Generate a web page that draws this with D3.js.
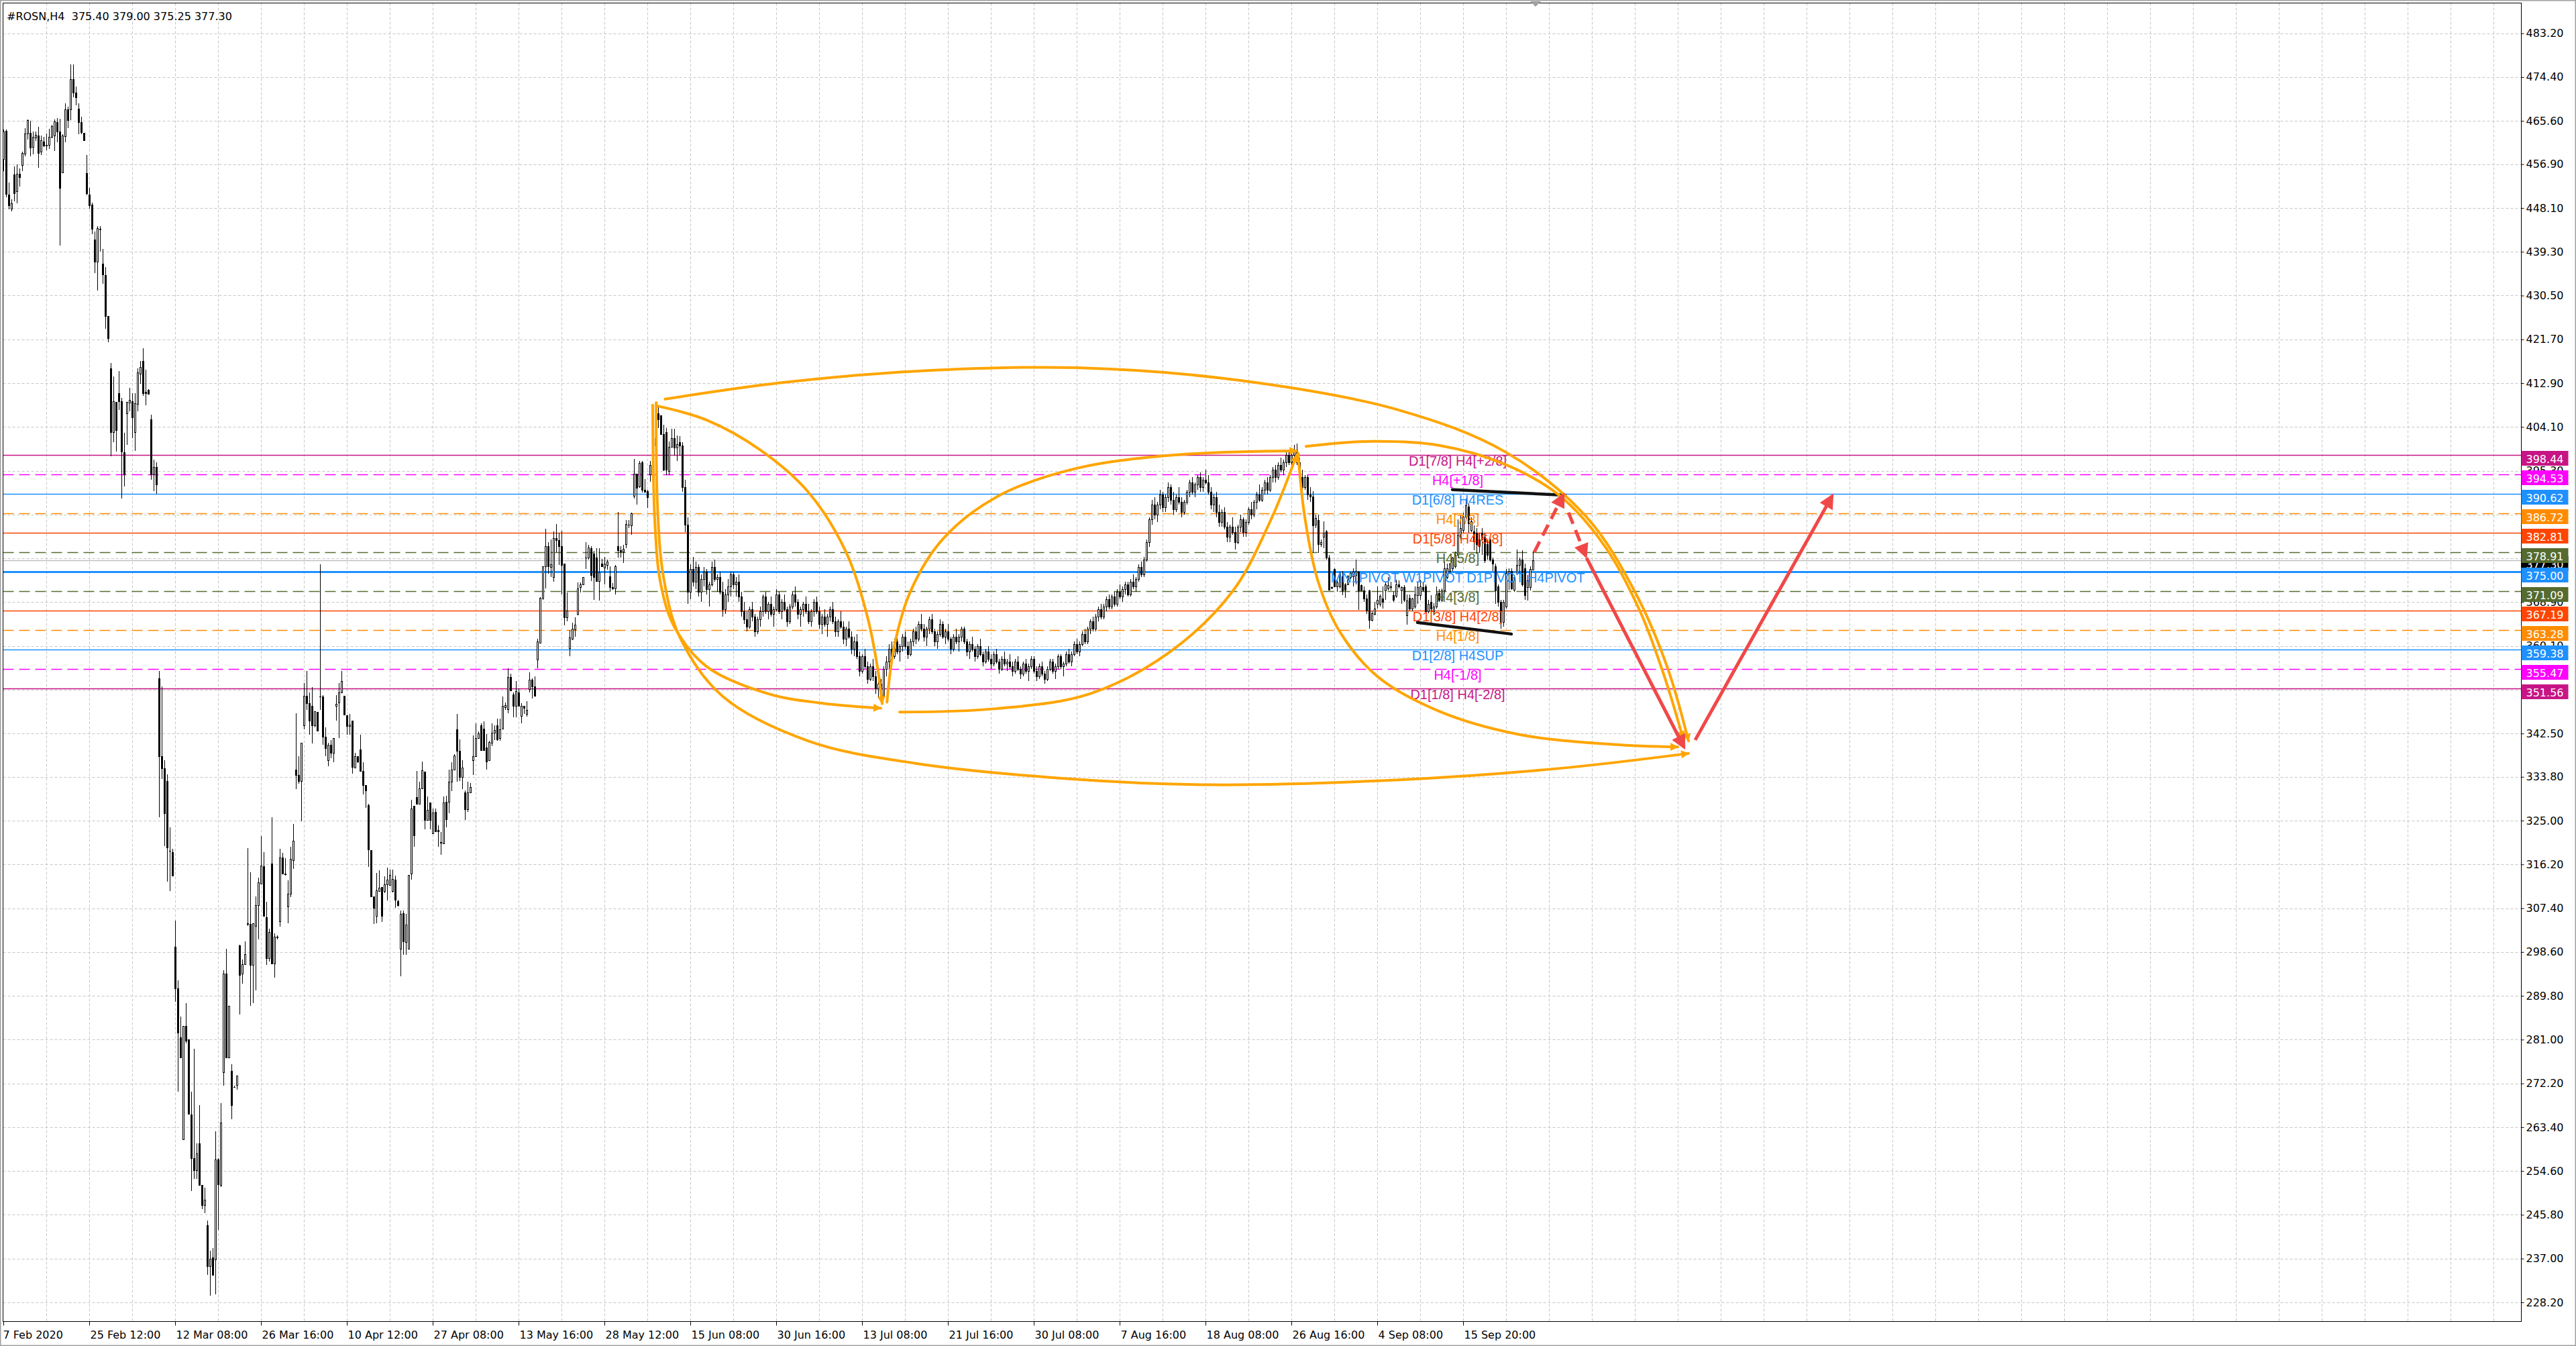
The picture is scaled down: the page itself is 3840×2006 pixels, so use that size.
<!DOCTYPE html>
<html><head><meta charset="utf-8">
<script src="https://cdn.jsdelivr.net/npm/d3@7"></script>
<style>html,body{margin:0;padding:0;background:#fff;overflow:hidden}svg{display:block}</style>
</head><body>
<svg id="c" width="3840" height="2006"></svg>
<script>
// ---------------- DATA ----------------
const title = "#ROSN,H4  375.40 379.00 375.25 377.30";
// H4 candles [open, high, low, close], oldest first
const ohlc = [
[457.9,463.9,455.5,463.5],[463.6,463.9,450.3,450.9],[450.8,453.2,447.8,448.6],[448.0,449.8,447.4,449.1],[454.9,456.4,449.5,451.1],
[451.5,456.8,449.0,455.0],[455.0,456.0,452.4,454.3],[456.7,459.4,455.5,459.1],[459.0,464.2,458.5,463.0],[463.0,465.9,461.8,465.8],
[463.2,465.6,458.5,460.2],[460.3,463.4,458.9,462.4],[462.3,463.4,461.6,462.8],[462.6,464.4,456.2,459.2],[459.4,462.6,458.8,461.7],
[461.5,462.4,460.3,460.6],[460.8,463.1,459.7,460.6],[460.8,464.0,460.0,462.4],[462.4,464.8,462.1,464.6],[462.6,465.9,459.5,465.5],
[465.4,466.2,461.3,463.4],[463.5,466.0,440.5,452.2],[455.2,462.9,455.2,462.6],[462.5,469.1,461.3,467.9],[467.9,468.5,464.2,465.8],
[467.9,476.9,465.8,474.0],[474.0,476.9,470.3,471.3],[471.3,472.5,468.7,470.3],[468.1,469.1,462.9,465.3],[465.3,466.4,462.9,463.3],
[463.2,463.2,461.7,461.7],[455.1,458.8,450.7,451.1],[450.8,452.1,448.0,448.6],[448.7,449.2,442.9,443.9],[441.7,443.4,435.0,437.3],
[437.3,444.5,431.5,444.0],[443.9,444.5,439.3,443.8],[436.9,439.9,432.9,434.8],[434.6,436.2,423.8,426.4],[426.4,426.4,421.1,422.0],
[415.9,417.0,398.2,403.1],[403.1,414.3,401.1,409.3],[409.1,409.1,399.2,403.4],[410.9,415.3,407.5,409.3],[409.3,409.9,389.7,399.2],
[399.0,402.9,392.1,394.6],[406.9,409.1,400.5,409.1],[409.0,411.9,407.2,409.6],[409.3,410.9,401.9,406.0],[403.1,410.9,399.3,408.9],
[408.7,415.9,407.2,415.0],[414.8,417.4,412.8,416.1],[417.4,419.9,410.3,410.9],[411.2,415.6,408.4,410.9],[411.5,411.7,410.6,410.8],
[405.6,406.6,393.5,394.6],[394.6,397.5,391.2,396.0],[396.0,397.0,390.6,392.6],[353.6,355.0,325.7,338.0],[338.0,352.0,333.4,335.5],
[335.5,337.1,319.9,326.5],[333.0,334.3,312.8,319.6],[318.9,323.7,310.9,318.9],[318.6,319.4,313.9,313.9],[299.7,304.9,288.6,291.3],
[291.3,292.9,270.6,282.4],[281.5,285.6,277.4,277.4],[261.0,283.7,261.0,283.7],[283.7,288.3,280.3,280.8],[281.1,281.1,266.1,266.1],
[265.9,270.6,250.6,257.2],[257.2,279.2,253.0,254.8],[254.8,260.2,253.0,258.1],[260.2,267.9,251.8,251.8],[251.8,251.8,247.0,247.7],
[247.7,251.3,246.1,248.8],[243.7,244.6,233.7,235.5],[235.5,238.6,229.6,237.0],[237.3,239.1,233.7,233.7],[236.8,262.6,229.8,256.9],
[256.9,257.2,242.7,251.9],[251.8,268.2,251.4,264.3],[274.5,294.9,271.8,294.2],[294.2,299.3,277.4,277.4],[277.4,287.8,277.4,287.8],
[274.7,276.0,265.0,267.9],[271.5,271.8,271.3,271.5],[271.9,273.8,271.0,273.8],[299.9,300.1,286.0,294.0],[294.2,297.1,292.2,296.2],
[296.2,300.8,296.2,298.2],[304.3,319.5,303.9,304.4],[304.3,314.6,287.8,296.0],[296.0,304.4,288.3,304.4],[303.9,309.8,290.9,308.0],
[308.0,313.5,301.2,312.6],[312.3,321.9,312.3,316.0],[315.9,318.6,305.8,305.8],[305.6,308.7,296.0,297.4],[297.4,303.3,296.7,302.6],
[316.4,325.7,296.3,296.3],[296.3,302.3,293.5,301.7],[301.7,302.0,301.2,301.5],[304.8,319.4,303.7,317.6],[317.6,318.5,314.3,314.3],
[314.3,317.5,313.9,314.2],[307.8,313.0,304.4,310.3],[310.3,319.8,309.6,317.3],[317.1,324.3,315.3,321.0],[335.2,346.6,331.4,334.2],
[334.2,338.0,332.4,332.9],[333.0,340.6,324.9,340.6],[344.2,352.6,343.4,350.1],[350.1,355.1,347.3,348.6],[348.6,350.7,342.2,345.1],
[348.0,351.8,340.5,344.2],[344.2,347.0,343.7,347.0],[346.9,346.9,343.0,343.0],[349.9,376.5,347.3,350.0],[350.0,350.2,340.3,341.8],
[341.8,343.8,337.9,339.6],[337.2,340.6,335.9,340.3],[340.3,341.2,337.6,338.6],[338.6,341.6,336.7,341.6],[348.0,350.2,345.1,348.5],
[348.7,352.6,341.6,350.7],[350.7,355.1,350.7,353.1],[350.1,350.1,346.3,346.3],[346.2,346.2,342.2,344.0],[344.0,346.5,342.2,344.3],
[345.1,345.1,334.5,335.8],[335.7,338.6,335.6,338.0],[338.0,338.0,336.6,336.9],[339.3,342.2,335.0,335.0],[335.0,336.7,330.2,332.2],
[332.2,332.2,327.5,331.1],[328.1,328.4,315.7,319.2],[319.1,319.1,309.8,309.8],[309.8,309.8,304.2,307.5],[305.9,314.5,304.4,311.0],
[310.9,315.0,310.9,311.5],[311.6,311.6,304.6,305.9],[310.8,313.8,310.4,312.2],[312.2,315.5,309.0,313.2],[312.1,315.2,312.1,314.1],
[310.8,315.2,310.6,313.3],[313.2,313.9,307.5,309.1],[308.8,309.1,307.8,308.0],[299.3,306.9,293.7,306.3],[306.4,307.0,298.0,300.8],
[300.6,306.3,298.0,304.1],[299.3,314.1,299.3,314.1],[314.3,329.2,313.2,327.4],[327.9,327.9,319.8,322.1],[329.7,335.0,328.4,328.4],
[328.4,332.8,328.4,331.5],[331.5,336.9,331.4,335.1],[334.8,334.8,323.2,325.1],[325.1,329.9,325.1,327.1],[328.6,328.6,323.2,325.1],
[322.5,327.4,322.5,326.6],[326.8,327.4,322.8,322.8],[323.1,324.0,319.8,322.9],[320.7,322.7,318.1,320.5],[320.4,329.9,320.3,328.7],
[328.8,330.0,323.6,325.3],[328.8,335.2,326.5,332.8],[332.8,336.7,330.9,335.3],[335.3,338.3,335.2,338.1],[343.4,346.4,332.8,339.0],
[339.0,341.3,332.9,333.7],[333.8,337.2,331.4,335.7],[330.7,331.1,325.1,327.3],[327.3,332.8,326.7,330.7],[330.7,332.5,330.6,331.7],
[337.2,342.1,334.2,337.9],[338.0,344.6,337.9,341.6],[341.6,342.9,341.4,342.5],[344.2,344.6,339.1,339.2],[343.5,344.9,339.1,339.1],
[339.7,342.4,335.2,336.8],[337.2,341.0,337.2,340.8],[340.6,344.6,340.0,342.7],[342.7,344.2,341.2,343.2],[344.2,345.5,341.1,341.3],
[341.6,345.5,341.1,343.4],[343.5,349.9,343.4,348.0],[347.8,348.7,347.2,348.2],[347.4,355.6,346.6,353.8],[353.8,354.5,351.2,351.2],
[350.4,350.7,345.8,348.1],[348.1,353.1,345.8,351.0],[350.7,351.6,348.0,348.0],[346.1,348.6,344.6,348.1],[348.1,348.1,346.4,347.7],
[346.4,349.0,345.9,347.3],[351.4,354.8,350.8,353.3],[353.3,353.6,349.6,351.9],[351.9,354.0,350.0,350.1],[357.4,361.6,355.6,361.0],
[360.7,369.9,360.7,369.7],[369.7,376.1,369.4,376.1],[376.1,383.7,371.6,380.1],[380.1,381.0,374.6,376.1],[375.9,381.5,373.9,376.5],
[373.9,383.1,373.0,381.7],[381.7,384.6,378.9,381.4],[381.4,382.8,376.4,380.2],[380.2,383.2,370.4,376.4],[376.6,376.6,364.3,365.9],
[365.8,370.9,365.1,367.2],[359.6,363.3,358.0,361.8],[361.6,364.8,361.3,363.6],[363.4,365.8,361.9,364.4],[366.5,372.8,366.2,371.7],
[371.9,372.9,370.8,372.5],[372.5,374.0,372.5,374.0],[377.9,381.0,375.5,377.8],[377.9,380.4,377.4,379.9],[379.8,380.1,373.1,374.3],
[378.6,379.2,369.3,373.9],[377.8,379.8,373.1,373.1],[373.1,379.8,369.2,374.9],[376.7,377.6,376.1,376.1],[375.8,378.0,372.5,376.7],
[376.4,377.5,375.4,377.0],[374.1,376.1,371.0,371.9],[371.9,372.7,371.4,371.6],[371.6,376.4,370.5,376.1],[380.1,387.0,377.8,379.3],
[379.3,380.1,377.8,379.0],[379.0,380.4,376.8,379.6],[380.5,385.4,379.8,384.6],[384.4,385.4,383.8,384.5],[384.3,386.9,382.5,386.8],
[390.2,397.7,389.7,394.7],[394.7,394.7,388.5,391.9],[392.2,397.3,391.9,396.9],[397.0,397.3,390.9,391.5],[391.5,393.6,391.1,391.1],
[391.2,391.5,387.8,390.0],[394.6,397.3,393.1,396.4],[396.4,401.5,395.5,400.3],[400.3,403.9,400.0,401.9],[406.9,408.2,403.9,405.6],
[406.4,406.4,402.5,402.7],[402.7,404.5,395.2,395.5],[403.0,403.9,394.5,395.5],[395.3,401.2,394.5,400.1],[400.1,403.8,399.9,401.9],
[401.9,403.7,398.3,400.0],[400.0,402.4,397.3,400.7],[401.1,402.3,398.4,400.3],
[400.3,401.0,391.0,392.0],[392.0,393.5,383.0,384.5],[384.5,386.0,368.5,371.0],[371.0,376.5,369.5,375.5],[375.5,378.0,372.0,373.0],
[373.0,377.0,371.5,376.0],[376.0,376.5,370.0,371.0],[371.0,374.5,369.0,373.5],[373.5,376.0,372.0,375.0],[375.0,375.5,370.5,371.5],
[371.5,373.0,368.0,372.5],[372.5,377.0,372.0,376.0],[376.0,377.5,373.0,373.5],[373.5,374.5,371.0,374.0],[374.0,375.0,370.5,371.0],
[371.0,373.0,366.0,367.5],[367.5,371.5,366.5,370.5],[370.5,373.5,369.0,372.0],[372.0,375.0,370.0,374.5],[374.5,375.0,371.5,372.5],
[372.5,374.0,370.0,373.0],[373.0,374.5,369.0,370.0],[370.0,371.0,366.0,367.0],[367.0,369.0,364.5,365.5],[365.5,367.0,363.0,364.0],
[364.0,368.0,363.5,367.5],[367.5,369.0,365.0,366.0],[366.0,366.5,362.0,363.0],[363.0,366.0,362.5,365.5],[365.5,368.0,364.0,367.0],
[367.0,370.5,366.0,370.0],[370.0,371.0,366.5,367.0],[367.0,369.0,365.5,368.5],[368.5,370.0,366.0,366.5],[366.5,368.0,364.0,367.5],
[367.5,371.5,367.0,370.5],[370.5,371.0,366.5,367.0],[367.0,369.5,365.5,369.0],[369.0,370.5,367.0,367.5],[367.5,368.0,364.0,365.0],
[365.0,368.5,364.5,368.0],[368.0,371.0,367.5,370.5],[370.5,372.0,368.0,369.0],[369.0,369.5,365.5,366.5],[366.5,368.0,364.0,367.5],
[367.5,369.0,366.0,368.5],[368.5,370.0,366.5,367.0],[367.0,368.5,364.5,365.0],[365.0,367.5,364.0,367.0],[367.0,369.5,366.0,369.0],
[369.0,370.0,366.5,367.0],[367.0,368.0,363.5,364.5],[364.5,366.5,362.5,366.0],[366.0,367.5,364.0,364.5],[364.5,366.5,362.0,366.0],
[366.0,368.0,365.0,367.5],[367.5,369.0,364.5,365.0],[365.0,366.0,362.0,363.0],[363.0,365.5,362.0,365.0],[365.0,367.0,363.5,364.0],
[364.0,365.0,360.5,361.5],[361.5,364.0,360.0,363.5],[363.5,365.0,361.5,362.0],[362.0,363.0,358.5,359.5],[359.5,362.0,358.0,361.0],
[361.0,362.5,357.5,358.0],[358.0,359.0,354.0,355.0],[355.0,358.5,354.5,358.0],[358.0,359.5,355.5,356.0],[356.0,357.0,352.5,353.5],
[353.5,356.5,353.0,356.0],[356.0,357.5,353.0,354.0],[354.0,355.0,350.5,351.5],[351.5,353.0,349.5,352.5],[352.5,353.5,348.5,350.0],
[350.0,356.0,349.5,355.5],[355.5,358.0,354.0,357.0],[357.0,360.5,355.5,359.5],[359.5,361.0,357.0,358.0],[358.0,361.5,357.5,361.0],
[361.0,362.0,358.5,359.0],[359.0,360.5,357.0,360.0],[360.0,362.5,359.0,362.0],[362.0,363.0,359.5,360.0],[360.0,361.0,357.5,358.5],
[358.5,361.5,358.0,361.0],[361.0,363.5,360.0,363.0],[363.0,364.0,360.5,361.5],[361.5,365.0,361.0,364.5],[364.5,366.5,363.0,363.5],
[363.5,364.5,361.0,362.0],[362.0,364.0,360.0,363.5],[363.5,366.0,362.5,365.5],[365.5,366.5,362.5,363.0],[363.0,363.5,360.0,361.0],
[361.0,363.0,359.5,362.5],[362.5,365.5,362.0,364.5],[364.5,365.0,361.5,362.0],[362.0,363.5,360.5,363.0],[363.0,364.5,361.0,361.5],
[361.5,362.0,358.5,359.5],[359.5,362.5,359.0,362.0],[362.0,363.5,360.5,361.0],[361.0,362.5,359.0,362.0],[362.0,364.0,361.0,363.5],
[363.5,364.0,360.5,361.0],[361.0,361.5,358.0,359.0],[359.0,361.0,357.5,360.5],[360.5,362.0,359.0,359.5],[359.5,360.0,357.0,358.0],
[358.0,360.5,357.5,360.0],[360.0,361.5,358.0,358.5],[358.5,359.0,356.0,357.0],[357.0,359.5,356.5,359.0],[359.0,360.0,357.0,357.5],
[357.5,358.5,355.5,356.5],[356.5,359.0,356.0,358.5],[358.5,359.5,356.5,357.0],[357.0,357.5,354.5,355.5],[355.5,358.0,355.0,357.5],
[357.5,359.0,356.0,356.5],[356.5,357.5,355.0,357.0],[357.0,358.5,355.5,356.0],[356.0,357.0,354.0,355.0],[355.0,357.5,354.5,357.0],
[357.0,358.0,355.0,355.5],[355.5,356.0,353.5,354.5],[354.5,357.0,354.0,356.5],[356.5,357.5,354.5,355.0],[355.0,356.5,353.0,356.0],
[356.0,358.0,355.5,357.5],[357.5,358.0,354.5,355.0],[355.0,356.0,353.0,354.0],[354.0,356.5,353.5,356.0],[356.0,357.0,354.0,354.5],
[354.5,355.0,352.5,353.5],[353.5,356.0,353.0,355.5],[355.5,357.5,355.0,357.0],[357.0,357.5,354.5,355.0],[355.0,356.5,353.5,356.0],
[356.0,358.5,355.5,358.0],[358.0,358.5,355.5,356.0],[356.0,357.0,354.0,356.5],[356.5,359.0,356.0,358.5],[358.5,359.5,356.5,357.0],
[357.0,359.0,356.0,358.5],[358.5,361.0,358.0,360.5],[360.5,361.5,358.5,359.0],[359.0,361.0,358.0,360.5],[360.5,363.0,360.0,362.5],
[362.5,363.5,360.5,361.0],[361.0,364.0,360.5,363.5],[363.5,365.5,362.5,365.0],[365.0,366.0,363.0,363.5],[363.5,366.5,363.0,366.0],
[366.0,368.0,365.0,367.5],[367.5,368.5,365.5,366.0],[366.0,368.5,365.5,368.0],[368.0,370.0,367.0,369.5],[369.5,370.5,367.5,368.0],
[368.0,370.5,367.5,370.0],[370.0,371.0,368.0,368.5],[368.5,371.5,368.0,371.0],[371.0,372.5,369.5,370.0],[370.0,372.0,369.0,371.5],
[371.5,373.0,370.5,372.5],[372.5,373.0,370.0,370.5],[370.5,373.5,370.0,373.0],[373.0,374.5,371.5,372.0],[372.0,374.0,371.0,373.5],
[373.5,376.5,373.0,376.0],[376.0,377.0,374.0,374.5],[374.5,378.0,374.0,377.5],[377.5,381.5,377.0,381.0],[381.0,386.0,380.0,385.5],
[385.5,389.5,384.5,388.5],[388.5,390.0,385.5,386.5],[386.5,389.0,385.0,388.5],[388.5,391.5,387.5,390.5],[390.5,391.0,387.0,388.0],
[388.0,390.5,387.0,390.0],[390.0,393.0,389.0,392.0],[392.0,392.5,388.5,389.5],[389.5,391.0,386.5,387.5],[387.5,390.5,387.0,390.0],
[390.0,392.0,388.5,389.0],[389.0,390.0,386.0,387.0],[387.0,389.5,386.5,389.0],[389.0,391.5,388.5,391.0],[391.0,393.5,390.0,393.0],
[393.0,394.0,390.5,391.0],[391.0,393.0,390.0,392.5],[392.5,394.5,391.5,394.0],[394.0,395.0,391.0,392.0],[392.0,394.0,391.0,393.5],
[393.5,395.5,392.5,393.0],[393.0,394.5,390.5,391.0],[391.0,392.0,387.5,388.5],[388.5,390.5,387.0,390.0],[390.0,391.0,386.0,387.0],
[387.0,388.5,384.0,385.0],[385.0,387.5,384.0,387.0],[387.0,388.0,383.5,384.0],[384.0,385.0,381.0,382.0],[382.0,384.5,381.0,384.0],
[384.0,386.0,382.5,383.0],[383.0,384.0,379.5,381.0],[381.0,384.5,380.5,384.0],[384.0,386.5,383.0,385.5],[385.5,386.0,382.0,383.0],
[383.0,385.5,382.0,385.0],[385.0,388.0,384.5,387.5],[387.5,389.0,385.5,386.5],[386.5,389.5,386.0,389.0],[389.0,391.0,387.5,390.5],
[390.5,392.5,389.0,389.5],[389.5,392.0,389.0,391.5],[391.5,393.5,390.5,393.0],[393.0,394.0,390.5,391.5],[391.5,394.5,391.0,394.0],
[394.0,396.0,393.0,395.5],[395.5,396.5,393.0,394.0],[394.0,397.0,393.5,396.5],[396.5,398.0,395.0,395.5],[395.5,397.5,394.5,397.0],
[397.0,399.0,396.0,398.5],[398.5,399.5,396.5,397.0],[397.0,399.0,396.0,398.5],[398.5,400.5,397.5,399.5],[399.5,400.8,396.5,397.0],
[397.0,398.0,393.0,394.0],[394.0,395.5,391.0,392.0],[392.0,394.5,391.5,394.0],[394.0,394.5,389.5,390.5],[390.5,392.0,389.0,390.1],
[390.1,391.2,378.8,384.3],[384.5,386.5,383.8,385.8],[385.4,386.5,378.8,380.6],[380.6,381.5,379.97,380.9],[382.0,385.1,379.7,382.9],
[383.1,383.4,377.5,377.9],[377.9,378.4,371.2,371.4],[371.9,372.1,371.5,371.8],[375.5,375.7,372.1,372.1],[372.1,373.5,371.0,372.8],
[372.1,375.0,371.6,374.6],[374.1,375.2,370.3,371.2],[372.5,372.7,369.8,371.4],[372.5,374.3,372.5,374.1],[373.9,375.0,373.6,374.8],
[374.1,375.7,372.1,375.0],[374.3,377.5,372.5,375.2],[375.0,375.2,367.4,371.2],[372.3,372.5,371.2,371.3],[371.3,372.0,369.0,369.6],
[369.6,370.5,366.5,367.2],[371.2,371.4,363.5,365.3],[365.3,367.1,365.1,366.7],[366.5,368.9,366.2,367.6],[368.5,372.1,367.6,369.4],
[368.5,370.5,368.0,370.1],[369.6,372.1,367.6,368.9],[371.2,373.0,369.4,372.5],[371.6,373.9,371.2,372.3],[372.1,373.0,371.2,371.9],
[370.3,371.0,369.0,369.4],[370.1,373.4,369.8,372.5],[372.5,373.2,371.6,372.1],[371.2,372.1,368.5,371.9],[371.9,372.3,369.0,369.4],
[366.2,370.5,364.4,369.2],[369.8,370.5,367.2,367.6],[367.6,369.8,367.0,369.6],[368.0,372.1,367.6,370.5],[370.3,373.0,368.5,371.9],
[370.3,373.4,369.4,372.1],[371.9,373.0,371.0,371.4],[372.1,372.5,366.7,367.1],[367.1,369.4,366.7,368.5],[368.9,370.3,366.7,367.6],
[367.1,368.7,366.2,368.0],[368.0,372.1,367.6,370.5],[370.7,371.5,369.0,369.4],[369.4,371.6,369.0,371.2],[371.2,377.0,370.7,375.7],
[373.9,376.6,373.5,375.7],[375.2,376.8,374.6,376.6],[375.7,378.0,375.2,377.9],[376.1,379.0,375.7,378.4],[378.4,385.6,377.9,382.4],
[382.0,386.5,381.5,383.8],[383.4,386.9,382.9,386.1],[386.1,389.7,385.6,388.3],[388.1,388.8,382.9,384.7],[383.4,386.0,383.0,385.1],
[383.1,384.3,379.3,381.1],[382.9,383.8,378.8,380.6],[381.5,382.9,378.8,380.2],[382.9,383.8,378.4,381.5],[382.0,382.9,376.8,377.3],
[380.6,381.5,377.5,378.4],[381.5,382.0,377.0,377.5],[377.5,377.9,375.2,376.6],[376.1,376.6,368.5,371.2],[372.1,372.5,368.0,368.9],
[368.9,369.4,363.5,364.9],[364.9,369.4,364.0,368.9],[368.0,375.5,367.6,374.8],[374.8,375.7,371.4,375.2],[375.2,375.7,371.4,371.6],
[371.4,374.3,371.0,373.9],[374.8,379.5,374.3,376.4],[376.4,377.9,374.8,377.5],[377.5,379.3,372.1,372.5],[375.7,376.6,369.4,370.3],
[371.9,374.3,369.2,373.2],[371.9,376.1,371.2,375.5],[375.4,379.0,375.25,377.3]
];
const lastPrice = 377.30;
const priceTicks = [483.2,474.4,465.6,456.9,448.1,439.3,430.5,421.7,412.9,404.1,395.3,386.5,377.7,368.9,360.1,351.3,342.5,333.8,325.0,316.2,307.4,298.6,289.8,281.0,272.2,263.4,254.6,245.8,237.0,228.2];
const timeLabels = ["7 Feb 2020","25 Feb 12:00","12 Mar 08:00","26 Mar 16:00","10 Apr 12:00","27 Apr 08:00","13 May 16:00","28 May 12:00","15 Jun 08:00","30 Jun 16:00","13 Jul 08:00","21 Jul 16:00","30 Jul 08:00","7 Aug 16:00","18 Aug 08:00","26 Aug 16:00","4 Sep 08:00","15 Sep 20:00"];
const barsPerLabel = 32;
// Murrey / pivot levels
const levelPrices = [398.44,394.53,390.62,386.72,382.81,378.91,375.00,371.09,367.19,363.28,359.38,355.47,351.56];
const levelNames = ["D1[7/8] H4[+2/8]","H4[+1/8]","D1[6/8] H4RES","H4[7/8]","D1[5/8] H4[6/8]","H4[5/8]","MN1PIVOT W1PIVOT D1PIVOT H4PIVOT","H4[3/8]","D1[3/8] H4[2/8]","H4[1/8]","D1[2/8] H4SUP","H4[-1/8]","D1[1/8] H4[-2/8]"];
const levelKinds = ["v","m","b","o","r","g","p","g","r","o","b","m","v"];
const levelLabelBar = 542;
// hand-drawn annotations in [bar, price]
const orangeArcs = [
  [[246.6,409.7],[290,413],[340,415.3],[400,416],[460,413.5],[520,407.5],[560,399],[590,386],[608,371],[620,356],[628,341]],
  [[242,408.5],[242.8,385],[245,372.5],[250,364],[262,356],[285,350.5],[305,348.6],[327,347.6]],
  [[243.8,408.3],[262,405.5],[282,399.5],[300,391],[314,379],[322,366],[326,355],[327.5,348.5]],
  [[243.3,409],[243.8,388],[246,374],[252,362],[268,350],[300,341],[340,336.5],[400,333.3],[450,332.2],[520,333.2],[580,335.5],[628,338.5]],
  [[329.3,348.8],[332,360],[338,371],[350,381.5],[370,390],[400,395.8],[440,398.6],[482,399.3]],
  [[334,346.8],[370,347.5],[405,350.5],[435,359],[458,371],[472,385],[482,398.5]],
  [[482.5,398.8],[485,386],[490,373],[498,363],[512,354],[535,347],[565,342.3],[600,340.3],[624,339.8]],
  [[485.5,400.2],[510,401.2],[535,400.4],[560,396.5],[580,390.3],[597,380],[610,367],[619,354],[626,341.5]]
];
const trendLines = [[[540,391.5],[582,390.4]],[[527,364.8],[562,362.5]]];
const redDashed = [[[570.5,378.9],[581.3,390.4]],[[583.3,386.9],[589.7,378.2]]];
const redSolid = [[[590,377.8],[626.3,339.8]],[[630.5,341.2],[681.5,390.2]]];

// ---------------- LAYOUT ----------------
const W = 3840, H = 2006;
const L = 4.5, T = 4.5, R = 3758.5, B = 1969.5;
const x = d3.scaleLinear().domain([0, 100]).range([5, 405]);      // 4 px per bar
const y = d3.scaleLinear().domain([228.2, 483.2]).range([1941.0, 49.6]);
const kindStyle = {
  v:{c:"#C71585",d:null,w:1.5}, m:{c:"#FF00FF",d:"16,8",w:1.5}, b:{c:"#1E90FF",d:null,w:1.5},
  o:{c:"#FF8C00",d:"16,8",w:1.5}, r:{c:"#FF4500",d:null,w:1.5}, g:{c:"#556B2F",d:"16,8",w:1.5},
  p:{c:"#1E90FF",d:null,w:3}
};
const axisFont = "'DejaVu Sans', Verdana, sans-serif";

const svg = d3.select("#c");
svg.append("rect").attr("width",W).attr("height",H).attr("fill","#fff");
svg.append("rect").attr("x",0.5).attr("y",0.5).attr("width",W-1).attr("height",H-1)
  .attr("fill","none").attr("stroke","#a0a0a0").attr("stroke-width",2);

svg.append("defs").append("clipPath").attr("id","plot").append("rect")
  .attr("x",L).attr("y",T).attr("width",R-L).attr("height",B-T);
const plot = svg.append("g").attr("clip-path","url(#plot)");

// grid
const nBarsView = (R - 5) / 4;
const gridBars = d3.range(16, nBarsView, 16);
plot.append("g").selectAll("line").data(gridBars).join("line")
  .attr("x1",d=>Math.round(x(d))+0.5).attr("x2",d=>Math.round(x(d))+0.5)
  .attr("y1",T).attr("y2",B)
  .attr("stroke","#c6c6c6").attr("stroke-width",1).attr("stroke-dasharray","4,3");
plot.append("g").selectAll("line").data(priceTicks).join("line")
  .attr("x1",L).attr("x2",R)
  .attr("y1",d=>Math.round(y(d))+0.5).attr("y2",d=>Math.round(y(d))+0.5)
  .attr("stroke","#c6c6c6").attr("stroke-width",1).attr("stroke-dasharray","4,3");

// current price line
plot.append("line").attr("x1",L).attr("x2",R)
  .attr("y1",Math.round(y(lastPrice))+0.5).attr("y2",Math.round(y(lastPrice))+0.5)
  .attr("stroke","#c0c0c0").attr("stroke-width",1.5);

// levels
const levels = levelPrices.map((p,i)=>({p, name:levelNames[i], s:kindStyle[levelKinds[i]]}));
plot.append("g").selectAll("line").data(levels).join("line")
  .attr("x1",L).attr("x2",R)
  .attr("y1",d=>Math.round(y(d.p))+0.5).attr("y2",d=>Math.round(y(d.p))+0.5)
  .attr("stroke",d=>d.s.c).attr("stroke-width",d=>d.s.w)
  .attr("stroke-dasharray",d=>d.s.d);

// candles
const cg = plot.append("g").attr("shape-rendering","crispEdges");
const bars = ohlc.map((v,i)=>({i,o:v[0],h:v[1],l:v[2],c:v[3]}));
cg.selectAll("line.w").data(bars).join("line").attr("class","w")
  .attr("x1",d=>Math.round(x(d.i))+0.5).attr("x2",d=>Math.round(x(d.i))+0.5)
  .attr("y1",d=>y(d.h)).attr("y2",d=>y(d.l)).attr("stroke","#000").attr("stroke-width",1);
cg.selectAll("rect.b").data(bars).join("rect").attr("class","b")
  .attr("x",d=>Math.round(x(d.i))-0.5)
  .attr("width",2)
  .attr("y",d=>Math.round(y(Math.max(d.o,d.c)))+0.5)
  .attr("height",d=>Math.max(0.01, Math.round(y(Math.min(d.o,d.c)))-Math.round(y(Math.max(d.o,d.c)))))
  .attr("fill",d=>d.c>=d.o?"#fff":"#000").attr("stroke","#000").attr("stroke-width",1);

// level labels
plot.append("g").selectAll("text").data(levels).join("text")
  .attr("x",x(levelLabelBar)).attr("y",d=>y(d.p)+16)
  .attr("text-anchor","middle").attr("fill",d=>d.s.c)
  .attr("font-family","'Liberation Sans', Arial, sans-serif").attr("font-size",20)
  .text(d=>d.name);

// trend lines (black)
const lineGen = d3.line().x(d=>x(d[0])).y(d=>y(d[1]));
plot.append("g").selectAll("path").data(trendLines).join("path")
  .attr("d",lineGen).attr("stroke","#111").attr("stroke-width",4.5).attr("fill","none").attr("stroke-linecap","round");

// orange arcs
const defs = svg.select("defs");
defs.append("marker").attr("id","oa").attr("viewBox","0 0 10 10").attr("refX",9).attr("refY",5)
  .attr("markerWidth",14).attr("markerHeight",12).attr("markerUnits","userSpaceOnUse").attr("orient","auto")
  .append("path").attr("d","M0,0L10,5L0,10z").attr("fill","#FFA500");
defs.append("marker").attr("id","ra").attr("viewBox","0 0 10 10").attr("refX",8).attr("refY",5)
  .attr("markerWidth",26).attr("markerHeight",22).attr("markerUnits","userSpaceOnUse").attr("orient","auto")
  .append("path").attr("d","M0,0L10,5L0,10z").attr("fill","#F04848");
const arcGen = d3.line().x(d=>x(d[0])).y(d=>y(d[1])).curve(d3.curveCatmullRom.alpha(0.5));
plot.append("g").selectAll("path").data(orangeArcs).join("path")
  .attr("d",arcGen).attr("fill","none").attr("stroke","#FFA500").attr("stroke-width",4)
  .attr("stroke-linecap","round").attr("marker-end","url(#oa)");

// red arrows
plot.append("g").selectAll("path").data(redDashed).join("path")
  .attr("d",lineGen).attr("fill","none").attr("stroke","#F04848").attr("stroke-width",5)
  .attr("stroke-dasharray","18,10").attr("marker-end","url(#ra)");
plot.append("g").selectAll("path").data(redSolid).join("path")
  .attr("d",lineGen).attr("fill","none").attr("stroke","#F04848").attr("stroke-width",5)
  .attr("marker-end","url(#ra)");

// frame
svg.append("rect").attr("x",L).attr("y",T).attr("width",R-L).attr("height",B-T)
  .attr("fill","none").attr("stroke","#000").attr("stroke-width",1);

// shift marker
svg.append("path").attr("d",`M${x(571)-8},2L${x(571)+8},2L${x(571)},10Z`).attr("fill","#a0a0a0");

// title
svg.append("text").attr("x",10).attr("y",30).attr("font-family",axisFont).attr("font-size",16)
  .attr("fill","#000").attr("xml:space","preserve").text(title);

// price axis
const yAxis = d3.axisRight(y).tickValues(priceTicks).tickFormat(d3.format(".2f")).tickSize(4).tickPadding(3);
const ya = svg.append("g").attr("transform",`translate(${R},0)`).call(yAxis);
ya.select(".domain").remove();
ya.selectAll("line").attr("stroke","#000");
ya.selectAll("text").attr("font-family",axisFont).attr("font-size",16).attr("fill","#000").attr("dy","0.32em");

// current price box
const bx = svg.append("g");
bx.append("rect").attr("x",R).attr("y",Math.round(y(lastPrice))-6).attr("width",70).attr("height",22).attr("fill","#000");
bx.append("text").attr("x",R+7).attr("y",Math.round(y(lastPrice))+11.5).attr("fill","#fff")
  .attr("font-family",axisFont).attr("font-size",16).text(d3.format(".2f")(lastPrice));
// level boxes
const lb = svg.append("g").selectAll("g").data(levels).join("g");
lb.append("rect").attr("x",R).attr("y",d=>Math.round(y(d.p))-6).attr("width",70).attr("height",22).attr("fill",d=>d.s.c);
lb.append("text").attr("x",R+7).attr("y",d=>Math.round(y(d.p))+11.5).attr("fill","#fff")
  .attr("font-family",axisFont).attr("font-size",16).text(d=>d3.format(".2f")(d.p));

// time axis
const tickBars = timeLabels.map((_,i)=>i*barsPerLabel);
const xAxis = d3.axisBottom(x).tickValues(tickBars).tickFormat((d,i)=>timeLabels[i]).tickSize(6).tickPadding(8);
const xa = svg.append("g").attr("transform",`translate(0,${B})`).call(xAxis);
xa.select(".domain").remove();
xa.selectAll("line").attr("stroke","#000");
xa.selectAll("text").attr("font-family",axisFont).attr("font-size",16).attr("fill","#000")
  .attr("text-anchor","start").attr("dx",(d,i)=>i===0?-1:1);
</script>
</body></html>
